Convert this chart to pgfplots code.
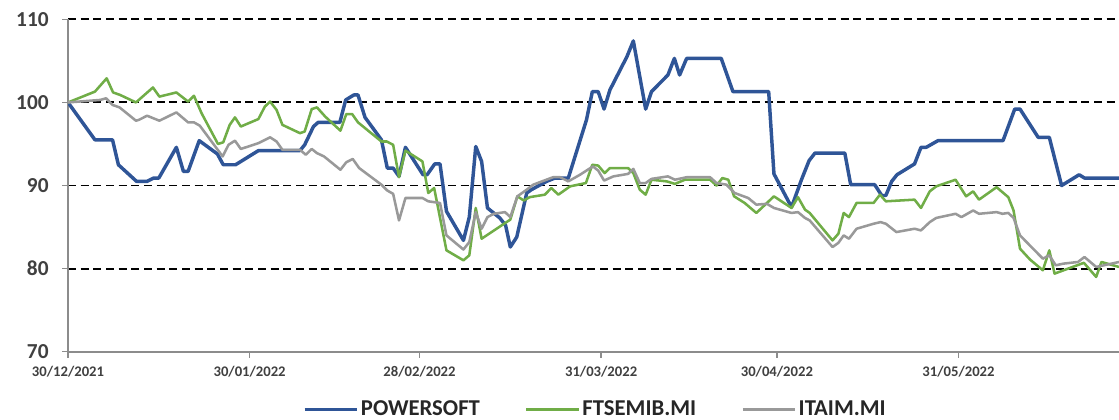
\documentclass[border=0pt]{standalone}
\usepackage{pgfplots}
\pgfplotsset{compat=1.18}
\usepackage{fontspec}
\setmainfont{Carlito}
\definecolor{psblue}{HTML}{2F5597}
\definecolor{ftgreen}{HTML}{70AD47}
\definecolor{itgray}{HTML}{999999}
\definecolor{axgray}{HTML}{8C8C8C}
\definecolor{txt}{HTML}{404040}
\begin{document}
\begin{tikzpicture}
\useasboundingbox (0,0) rectangle (839.25pt,315pt);
\begin{axis}[
  at={(51pt,51.2pt)}, anchor=south west,
  scale only axis, width=788.25pt, height=249.3pt,
  xmin=0, xmax=179.4, ymin=70, ymax=110,
  axis x line*=bottom, axis y line*=left,
  axis line style={axgray, line width=1.2pt, -},
  xtick={0,31,60,91,121,152},
  xticklabels={30/12/2021,30/01/2022,28/02/2022,31/03/2022,30/04/2022,31/05/2022},
  ytick={80,90,100,110},
  extra y ticks={70}, extra y tick style={grid=none},
  ymajorgrids,
  grid style={black, line width=1.4pt, dash pattern=on 6pt off 3.5pt},
  tick align=outside, major tick length=4.5pt,
  tick style={axgray, line width=1pt},
  /pgf/number format/assume math mode=true,
  yticklabel style={font=\fontsize{16}{19}\selectfont\bfseries, text=txt, xshift=-6.5pt},
  xticklabel style={font=\fontsize{11}{13}\selectfont\bfseries, text=txt, yshift=-3pt},
  legend style={at={(0.502,-0.174)}, anchor=center, draw=none, fill=none,
    legend columns=3, font=\fontsize{17}{20}\selectfont\bfseries, text=black!85,
    column sep=0pt},
  legend image code/.code={\draw[#1] (0pt,0pt) -- (39pt,0pt);},
]
\addplot[psblue, line width=2.6pt, line join=round] coordinates {
(0,100) (4.6,95.5) (7.6,95.5) (8.6,92.5) (11.7,90.5) (13.5,90.5) (14.6,90.9) (15.5,90.9)
(18.5,94.6) (19.7,91.7) (20.5,91.7) (22.4,95.4) (25.5,93.8) (26.5,92.5) (28.6,92.5)
(32.5,94.2) (39.6,94.2) (40.4,94.9) (41.9,97.1) (42.7,97.6) (46.4,97.6) (47.4,100.3)
(48.8,100.9) (49.5,100.9) (50.7,98.2) (53.5,95.5) (54.5,92.1) (55.5,92.1) (56.5,91.1)
(57.6,94.6) (60.6,91.3) (61.3,91.3) (62.6,92.6) (63.5,92.6) (64.6,86.9) (67.5,83.4)
(68.5,86.2) (69.6,94.7) (70.6,92.9) (71.6,87.3) (73.7,86.1) (74.7,85.2) (75.5,82.6)
(76.6,83.8) (78.3,89.1) (79.1,89.5) (81.7,90.5) (83.1,90.9) (85.4,90.9) (88.5,97.9)
(89.5,101.3) (90.5,101.3) (91.5,99.2) (92.5,101.5) (95.4,105.5) (96.5,107.4) (98.6,99.2)
(99.6,101.3) (102.4,103.3) (103.5,105.3) (104.4,103.3) (105.6,105.3) (111.5,105.3)
(113.5,101.3) (119.6,101.3) (120.5,91.4) (123.5,87.4) (125.2,90.7) (126.5,93.0)
(127.5,93.9) (132.6,93.9) (133.6,90.1) (137.7,90.1) (138.9,88.8) (139.6,88.8) (140.6,90.5)
(141.5,91.3) (144.5,92.6) (145.6,94.6) (146.5,94.6) (148.5,95.4) (159.6,95.4) (161.6,99.2)
(162.5,99.2) (165.6,95.8) (167.5,95.8) (169.6,90.0) (172.6,91.3) (173.5,90.9) (179.4,90.9)
};
\addlegendentry{POWERSOFT\rule{32pt}{0pt}}
\addplot[ftgreen, line width=1.9pt, line join=round] coordinates {
(0,100) (4.6,101.3) (6.6,102.9) (7.7,101.2) (8.9,100.9) (11.6,100) (14.5,101.8) (15.6,100.7)
(18.5,101.2) (20.5,100.1) (21.5,100.8) (22.8,98.7) (25.6,95.0) (26.5,95.2) (27.6,97.3)
(28.5,98.2) (29.5,97.1) (32.5,98.0) (33.6,99.5) (34.5,100.1) (35.6,99.1) (36.6,97.3)
(39.6,96.3) (40.4,96.5) (41.6,99.2) (42.5,99.4) (43.9,98.3) (46.5,96.6) (47.5,98.6)
(48.5,98.6) (49.5,97.6) (53.5,95.3) (54.4,95.3) (55.5,94.9) (56.5,91.0) (57.6,94.2)
(60.5,92.9) (61.5,89.1) (62.5,89.7) (64.6,82.2) (67.5,81.0) (68.5,81.6) (69.6,87.3)
(70.6,83.6) (75.5,85.9) (76.7,88.7) (77.8,88.2) (78.8,88.6) (81.4,88.9) (82.5,89.7)
(83.7,88.9) (85.7,89.9) (88.4,90.3) (89.5,92.5) (90.5,92.4) (91.6,91.5) (92.5,92.1)
(95.6,92.1) (96.5,91.5) (97.6,89.5) (98.6,88.9) (99.6,90.7) (102.2,90.5) (103.6,90.2)
(105.3,90.7) (109.6,90.7) (110.7,90.0) (111.7,90.9) (112.7,90.7) (113.7,88.7) (115.5,87.9)
(117.5,86.7) (120.5,88.7) (123.5,87.3) (124.6,88.6) (125.8,87.1) (126.6,86.7) (130.5,83.4)
(131.5,84.2) (132.4,86.7) (133.3,86.2) (134.6,87.9) (137.5,87.9) (138.6,88.9) (139.6,88.1)
(144.5,88.3) (145.6,87.3) (147.1,89.3) (148.2,89.9) (151.5,90.7) (153.3,88.7) (154.5,89.3)
(155.5,88.3) (158.5,89.8) (160.5,88.6) (161.4,87.0) (162.5,82.4) (164.2,81.1) (166.4,79.8)
(167.5,82.2) (168.4,79.4) (173.4,80.7) (175.5,79.0) (176.4,80.8) (179.4,80.2)
};
\addlegendentry{FTSEMIB.MI\rule{32pt}{0pt}}
\addplot[itgray, line width=1.9pt, line join=round] coordinates {
(0,100) (5.5,100.3) (6.5,100.5) (7.6,99.7) (8.8,99.4) (11.6,97.8) (12.1,97.9) (13.5,98.4)
(15.6,97.8) (18.5,98.8) (20.5,97.6) (21.5,97.6) (22.5,97.2) (26.4,93.5) (27.4,94.9)
(28.5,95.4) (29.5,94.4) (32.5,95.1) (34.5,95.8) (35.6,95.3) (36.6,94.3) (39.6,94.3)
(40.6,93.7) (41.6,94.4) (42.5,93.9) (43.7,93.5) (46.5,91.9) (47.5,92.8) (48.6,93.2)
(49.7,92.1) (53.5,90.1) (54.5,89.4) (55.5,89.0) (56.5,85.8) (57.6,88.5) (60.5,88.5)
(61.5,88.1) (63.5,87.9) (64.6,84.0) (67.5,82.3) (68.5,83.2) (69.6,86.8) (70.6,84.8)
(71.6,86.2) (72.7,86.6) (74.6,86.8) (75.5,86.2) (76.7,88.7) (78.3,89.5) (79.4,90.1)
(82.8,91.0) (84.0,91.0) (85.4,90.5) (87.4,91.3) (89.6,92.3) (90.5,91.8) (91.5,90.6)
(93.1,91.1) (95.6,91.4) (96.5,92.0) (97.6,90.3) (98.6,90.3) (99.6,90.8) (102.4,91.1)
(103.6,90.7) (105.6,91.0) (109.6,91.0) (110.7,90.3) (112.4,90.1) (113.8,89.1) (116.1,88.5)
(117.5,87.7) (119.3,87.8) (120.5,87.3) (123.5,86.7) (124.6,86.8) (125.8,86.1) (126.6,85.8)
(130.5,82.6) (131.5,83.1) (132.4,84.0) (133.3,83.6) (134.6,84.8) (137.5,85.4) (138.7,85.6)
(139.6,85.4) (141.4,84.4) (144.5,84.8) (145.6,84.6) (147.1,85.6) (148.2,86.1) (151.5,86.6)
(152.5,86.2) (154.5,87.0) (155.5,86.6) (158.5,86.8) (159.5,86.6) (160.5,86.7) (161.4,86.1)
(162.5,84.0) (166.4,81.2) (167.5,81.6) (168.6,80.4) (169.9,80.6) (172.4,80.8) (173.5,81.4)
(175.5,80.2) (179.4,80.8)
};
\addlegendentry{ITAIM.MI}
\end{axis}
\end{tikzpicture}
\end{document}
